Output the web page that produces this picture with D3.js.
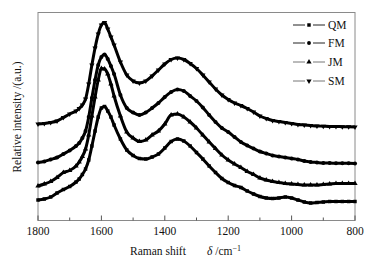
<!DOCTYPE html>
<html><head><meta charset="utf-8">
<script src="https://cdn.jsdelivr.net/npm/d3@7"></script>
<style>body{margin:0;background:#fff}svg{display:block}</style>
</head><body>
<svg id="c" width="374" height="263"></svg>
<script>
const wavenumbers = [1800,1780,1760,1740,1720,1700,1680,1670,1660,1650,1640,1630,1620,1610,1600,1590,1580,1570,1560,1540,1520,1500,1480,1460,1440,1420,1400,1380,1360,1340,1320,1300,1280,1260,1240,1220,1200,1180,1160,1140,1120,1100,1080,1060,1040,1020,1000,980,960,940,920,900,880,860,840,820,800];
const smValues = [97,97.5,98.5,100,103.5,107,110,112.5,116,122,137,156,173,187,196,198.5,192,184,176,159,146,140,138,140,145,151,157,161.5,163,161.5,157.5,152.5,146,139,132,126,121.5,118,115.5,112.5,109,105,102.5,100.5,99.5,98.5,97.5,96.5,96,95.5,95,94.8,94.5,94.5,94.3,94.3,94];
const fmValues = [58.5,59.5,61.5,63.5,67,70.5,75,78,83,90,104,123,141,156,164,166.5,162,155,147,126,113,108.5,106,108.5,113,118,124,129,131.5,130,125,120,113.5,106,99,93,89,84,79,75.5,72.5,69.5,67.5,65.5,64.5,63.5,62.5,61.5,60,59,58.5,58,58,57.7,57.7,57.7,57.5];
const jmValues = [35,37,39.5,43.5,48.5,50.5,55,59,64.5,72,86,105,124,141,152.5,152,147,137,125,105,89,83,79.5,81,86,90,97,106,107,104,99,93,86,79,72.5,66,61,57,53.5,49.5,46.5,43,41,39.5,38.5,37.5,37,36.5,36,36,36,36.5,37,37.5,37.5,37.5,37.5];
const qmValues = [21,22,24,28,31.5,34.5,39,42,46.5,52,61,75,90,104,113,114.5,110,104,96,82,71,65.5,62.5,62,64,67,73,79.5,82,80,75,68.5,62,55,48.5,42.5,38.5,35.5,33.5,30,27,24.5,23,22.5,23,24,23,21,19,18,18.5,19,19.5,19.5,19.5,19.5,19.5];
const seriesNames = ["QM","FM","JM","SM"];
const seriesData = [qmValues, fmValues, jmValues, smValues];
const symbolsFor = [d3.symbolSquare, d3.symbolCircle, d3.symbolTriangle, d3.symbolTriangle];
const xTicks = [1800,1600,1400,1200,1000,800];
const xMinorTicks = [1700,1500,1300,1100,900];

const svg = d3.select("#c");
const L = 38, R = 355, T = 12.5, B = 220.5;
const x = d3.scaleLinear().domain([1800, 800]).range([L, R]);
const y = d3.scaleLinear().domain([0, 208]).range([221, 13]);
const font = "'Liberation Serif','Times New Roman',serif";

// box
svg.append("rect").attr("x", L).attr("y", T).attr("width", R - L).attr("height", B - T)
  .attr("fill", "none").attr("stroke", "#8a8a8a").attr("stroke-width", 1);

// curves
const line = d3.line().x((d, i) => x(wavenumbers[i])).y(d => y(d)).curve(d3.curveMonotoneX);
seriesData.forEach((vals, k) => {
  const g = svg.append("g");
  g.append("path").attr("d", line(vals)).attr("fill", "none").attr("stroke", "#000").attr("stroke-width", 3);
  const sym = d3.symbol().type(symbolsFor[k]).size(k === 1 ? 13 : 12);
  g.selectAll("path.m").data(vals).join("path").attr("class", "m")
    .attr("d", sym)
    .attr("transform", (d, i) => `translate(${x(wavenumbers[i])},${y(d)})${k === 3 ? " rotate(180)" : ""}`)
    .attr("fill", "#000");
});

// x axis ticks (inward)
const ax = svg.append("g").attr("transform", `translate(0,${B})`);
ax.selectAll("line.maj").data(xTicks).join("line").attr("class", "maj")
  .attr("x1", d => x(d)).attr("x2", d => x(d)).attr("y1", 0).attr("y2", -5)
  .attr("stroke", "#555").attr("stroke-width", 1);
ax.selectAll("line.min").data(xMinorTicks).join("line").attr("class", "min")
  .attr("x1", d => x(d)).attr("x2", d => x(d)).attr("y1", 0).attr("y2", -3)
  .attr("stroke", "#555").attr("stroke-width", 1);
ax.selectAll("text").data(xTicks).join("text")
  .attr("x", d => x(d)).attr("y", 14.5).attr("text-anchor", "middle")
  .attr("font-family", font).attr("font-size", 11.5).attr("fill", "#111").text(d => d);

// axis titles
const xt = svg.append("text").attr("y", 255).attr("font-family", font).attr("font-size", 11.5).attr("fill", "#111");
xt.append("tspan").attr("x", 130).text("Raman shift");
const xt2 = svg.append("text").attr("x", 207).attr("y", 255).attr("font-family", font).attr("font-size", 11.5).attr("fill", "#111");
xt2.append("tspan").attr("font-style", "italic").text("δ");
xt2.append("tspan").text(" /cm");
xt2.append("tspan").attr("font-size", 8).attr("dy", -4.5).text("−1");

svg.append("text").attr("transform", "translate(21,117) rotate(-90)")
  .attr("text-anchor", "middle").attr("font-family", font).attr("font-size", 11.5).attr("fill", "#111")
  .text("Relative intensity /(a.u.)");

// legend
const legendY = [25, 43, 62, 81];
const legendLineColor = ["#222", "#222", "#777", "#777"];
seriesNames.forEach((name, k) => {
  const g = svg.append("g").attr("transform", `translate(0,${legendY[k]})`);
  g.append("line").attr("x1", 293).attr("x2", 305).attr("y1", 0).attr("y2", 0).attr("stroke", legendLineColor[k]).attr("stroke-width", 1);
  g.append("line").attr("x1", 313).attr("x2", 325).attr("y1", 0).attr("y2", 0).attr("stroke", legendLineColor[k]).attr("stroke-width", 1);
  g.append("path").attr("d", d3.symbol().type(symbolsFor[k]).size(12)())
    .attr("transform", `translate(309,0)${k === 3 ? " rotate(180)" : ""}`).attr("fill", "#000");
  g.append("text").attr("x", 328).attr("y", 4.2).attr("font-family", font).attr("font-size", 11.5).attr("fill", "#111").text(name);
});
</script>
</body></html>
